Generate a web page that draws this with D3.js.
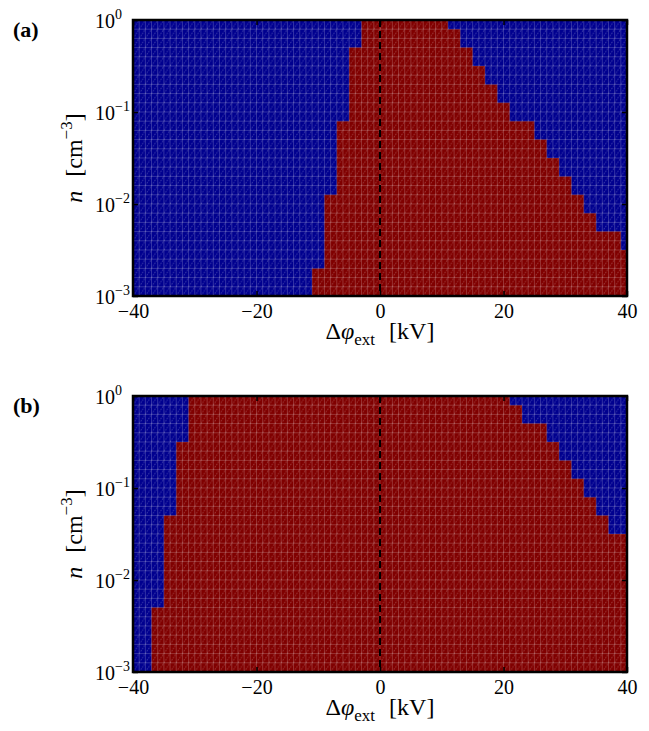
<!DOCTYPE html>
<html>
<head>
<meta charset="utf-8">
<script src="https://cdn.jsdelivr.net/npm/d3@7"></script>
<style>
  body { margin: 0; background: #fff; }
  text { font-family: "Liberation Serif", "Times New Roman", serif; fill: #000; }
</style>
</head>
<body>
<svg id="chart" width="649" height="731"></svg>
<script>
// column centres of the phi grid [kV], each column is 2 kV wide
const COLUMN_KV = [-40, -38, -36, -34, -32, -30, -28, -26, -24, -22, -20, -18, -16, -14, -12, -10, -8, -6, -4, -2,
  0, 2, 4, 6, 8, 10, 12, 14, 16, 18, 20, 22, 24, 26, 28, 30, 32, 34, 36, 38, 40]
// log10 of the density where the red region stops, per column (-3 = no red)
const RED_TOP_A = [-3, -3, -3, -3, -3, -3, -3, -3, -3, -3, -3, -3, -3, -3, -3, -2.7, -1.9, -1.1, -0.3, 0,
  0, 0, 0, 0, 0, 0, -0.1, -0.3, -0.5, -0.7, -0.9, -1.1, -1.1, -1.3, -1.5, -1.7, -1.9, -2.1, -2.3, -2.3, -2.5]
const RED_TOP_B = [-3, -3, -2.3, -1.3, -0.5, 0, 0, 0, 0, 0, 0, 0, 0, 0, 0, 0, 0, 0, 0, 0,
  0, 0, 0, 0, 0, 0, 0, 0, 0, 0, 0, -0.1, -0.3, -0.3, -0.5, -0.7, -0.9, -1.1, -1.3, -1.5, -1.5]

const X_TICKS = [-40, -20, 0, 20, 40]
const Y_TICK_EXP = [-3, -2, -1, 0]

const BLUE = '#00008f'
const RED = '#800000'

const svg = d3.select('#chart')
const W = 494
const H = 276
const x = d3.scaleLinear().domain([-40, 40]).range([0, W])
const y = d3.scaleLog().domain([1e-3, 1]).range([H, 0])
const minus = s => String(s).replace('-', '\u2212')

// hatch texture, one diagonal per mesh cell
const cellW = x(1) - x(0)
const cellH = y(1e-3) - y(Math.pow(10, -2.9))
const pat = svg.append('defs').append('pattern')
  .attr('id', 'hatch')
  .attr('patternUnits', 'userSpaceOnUse')
  .attr('width', cellW)
  .attr('height', cellH)
pat.append('line')
  .attr('x1', 0).attr('y1', cellH)
  .attr('x2', cellW).attr('y2', 0)
  .attr('stroke', '#fff')
  .attr('stroke-opacity', 0.22)
  .attr('stroke-width', 0.9)
  .attr('stroke-dasharray', '1.6,1.1')

function drawPanel (top, tops, label) {
  const g = svg.append('g').attr('transform', `translate(133,${top})`)
  const cells = COLUMN_KV.map((c, i) => ({ x0: Math.max(-40, c - 1), x1: Math.min(40, c + 1), t: tops[i] }))
  const pts = cells.flatMap(d => [{ x: d.x0, t: d.t }, { x: d.x1, t: d.t }])

  g.append('rect')
    .attr('width', W).attr('height', H)
    .attr('fill', BLUE)

  g.append('path')
    .datum(pts)
    .attr('fill', RED)
    .attr('d', d3.area()
      .x(d => x(d.x))
      .y0(y(1e-3))
      .y1(d => y(Math.pow(10, d.t))))

  // faint mesh lines
  const grid = g.append('g').attr('stroke', '#fff').attr('stroke-opacity', 0.2).attr('stroke-width', 1)
  grid.selectAll('.vx')
    .data(d3.range(-39, 40))
    .join('line')
    .attr('x1', d => x(d)).attr('x2', d => x(d))
    .attr('y1', 0).attr('y2', H)
  grid.selectAll('.hy')
    .data(d3.range(1, 30))
    .join('line')
    .attr('x1', 0).attr('x2', W)
    .attr('y1', d => y(Math.pow(10, -3 + d / 10)))
    .attr('y2', d => y(Math.pow(10, -3 + d / 10)))

  g.append('rect')
    .attr('width', W).attr('height', H)
    .attr('fill', 'url(#hatch)')

  // dashed line at zero
  g.append('line')
    .attr('x1', x(0)).attr('x2', x(0))
    .attr('y1', 0).attr('y2', H)
    .attr('stroke', '#000')
    .attr('stroke-width', 2)
    .attr('stroke-dasharray', '7,4')

  // axes
  const xAxis = g.append('g')
    .attr('transform', `translate(0,${H})`)
    .call(d3.axisBottom(x).tickValues(X_TICKS).tickSizeInner(-5).tickSizeOuter(0).tickPadding(8)
      .tickFormat(d => minus(d)))
  g.append('g')
    .call(d3.axisTop(x).tickValues(X_TICKS).tickSizeInner(-5).tickSizeOuter(0).tickFormat(''))
  g.append('g')
    .call(d3.axisLeft(y).tickValues(Y_TICK_EXP.map(e => Math.pow(10, e))).tickSizeInner(-5).tickSizeOuter(0).tickFormat(''))
  g.append('g')
    .attr('transform', `translate(${W},0)`)
    .call(d3.axisRight(y).tickValues(Y_TICK_EXP.map(e => Math.pow(10, e))).tickSizeInner(-5).tickSizeOuter(0).tickFormat(''))
  g.selectAll('.domain').remove()
  g.selectAll('.tick line').attr('stroke', '#000').attr('stroke-width', 1.5)
  xAxis.selectAll('text')
    .style('font-family', '"Liberation Serif", "Times New Roman", serif')
    .style('font-size', '20px')
    .attr('fill', '#000')

  // y tick labels 10^k
  const yl = g.append('g')
  Y_TICK_EXP.forEach(e => {
    const t = yl.append('text')
      .attr('x', -38)
      .attr('y', y(Math.pow(10, e)) + 7.5)
      .style('font-size', '20px')
    t.append('tspan').text('10')
    t.append('tspan')
      .attr('dy', -9)
      .style('font-size', '14px')
      .text(minus(e))
  })

  // frame
  g.append('rect')
    .attr('width', W).attr('height', H)
    .attr('fill', 'none')
    .attr('stroke', '#000')
    .attr('stroke-width', 2.5)

  // x label
  const xl = g.append('text')
    .attr('x', W / 2)
    .attr('y', H + 43)
    .attr('text-anchor', 'middle')
    .style('font-size', '24px')
  xl.append('tspan').text('\u0394')
  xl.append('tspan').style('font-style', 'italic').text('\u03c6')
  xl.append('tspan').attr('dy', 6).style('font-size', '17px').text('ext')
  xl.append('tspan').attr('dy', -6).attr('dx', 14).text('[kV]')

  // y label
  const ylab = g.append('text')
    .attr('transform', `translate(-51,${H / 2}) rotate(-90)`)
    .attr('text-anchor', 'middle')
    .style('font-size', '24px')
  ylab.append('tspan').style('font-style', 'italic').text('n')
  ylab.append('tspan').attr('dx', 14).text('[cm')
  ylab.append('tspan').attr('dy', -10).style('font-size', '17px').text('\u22123')
  ylab.append('tspan').attr('dy', 10).text(']')

  // panel letter
  svg.append('text')
    .attr('x', 13)
    .attr('y', top + 17)
    .style('font-size', '22px')
    .style('font-weight', 'bold')
    .text(label)
}

drawPanel(20, RED_TOP_A, '(a)')
drawPanel(396, RED_TOP_B, '(b)')
</script>
</body>
</html>
